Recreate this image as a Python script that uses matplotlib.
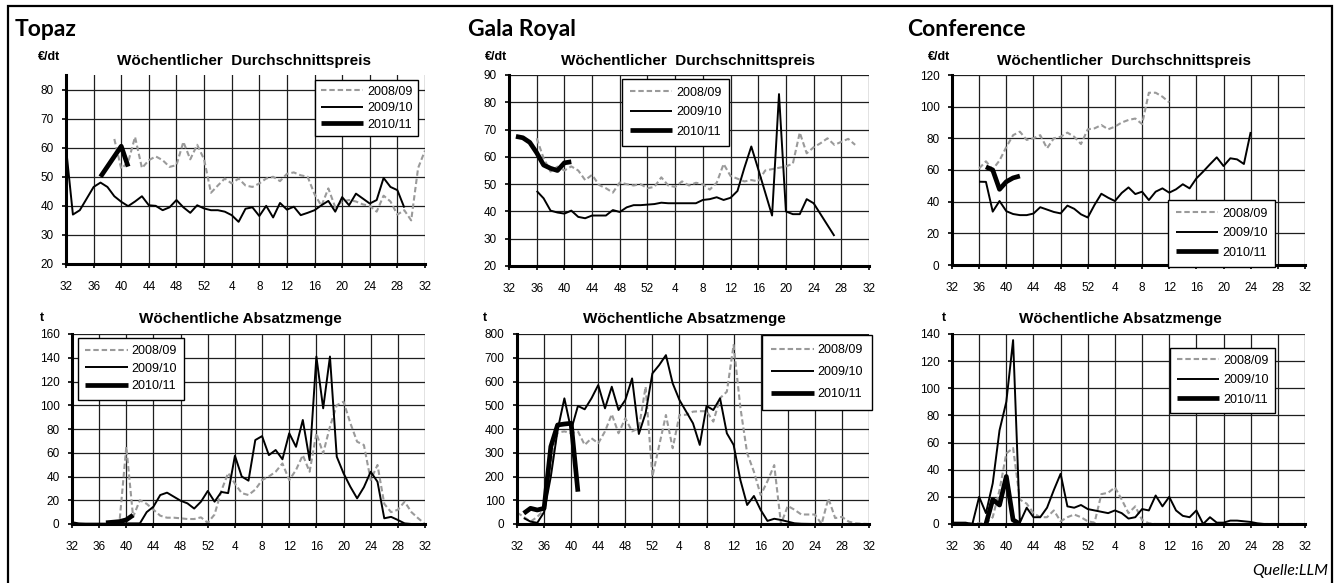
import numpy as np
import matplotlib.pyplot as plt
from matplotlib.patches import Rectangle

# weekly data, x index 0 = week 32 of the first year, 20 = week 52, 52 = week 32 next year
SEASONS = ["2008/09", "2009/10", "2010/11"]
WEEK_LABELS = [32, 36, 40, 44, 48, 52, 4, 8, 12, 16, 20, 24, 28, 32]

# Topaz - price (EUR/dt)
topaz_price_0809_start = 7
topaz_price_0809 = [63, 52.8, 55, 63.7, 53, 55.7, 57, 55.7, 53.4, 54, 62, 56, 61, 56,
                    44.5, 47, 49.4, 47.7, 49.4, 47, 46.5, 47.7, 49.4, 50, 48.5, 51, 51.5,
                    50.5, 50, 44, 40, 46, 39.5, 41.5, 42, 41.5, 40.5, 40, 38, 43.5, 41.5,
                    37, 38.5, 35, 53, 59]
topaz_price_0910_start = 0
topaz_price_0910 = [60, 37, 38.5, 42.5, 46.5, 48, 46.5, 43.3, 41.4, 39.9, 41.5, 43.3, 40.2,
                    40, 38.5, 39.5, 42, 39.5, 37.6, 40.2, 39.1, 38.5, 38.5, 38, 36.8, 34.5,
                    39, 39.5, 36.5, 40, 36, 41, 38.7, 39.7, 36.8, 37.6, 38.5, 40.2, 41.7,
                    38, 43, 40.2, 44.2, 42.5, 40.8, 42, 49.6, 46.5, 45.4, 39.4]
topaz_price_1011_start = 5
topaz_price_1011 = [50, 53.5, 57, 60.5, 53.5]

# Gala Royal - price (EUR/dt)
gala_price_0809_start = 4
gala_price_0809 = [66.8, 59.5, 54.6, 56.4, 55, 56.5, 55, 51.5, 53.4, 49.7, 48.5, 46.9, 50.6,
                   50, 49.5, 50, 48.5, 49, 52.5, 49.5, 49, 51, 49.5, 50.5, 50, 48, 50.5,
                   57.4, 53, 52, 51, 51.5, 51, 55, 55.5, 56, 56.5, 57.5, 68.9, 61.3, 63.5,
                   65, 66.8, 64.4, 65.5, 66.6, 64.4]
gala_price_0910_start = 4
gala_price_0910 = [47.5, 44.8, 40.3, 39.6, 39.2, 40.3, 38, 37.5, 38.5, 38.5, 38.5, 40.5,
                   39.8, 41.5, 42.3, 42.3, 42.5, 42.7, 43.2, 43, 43, 43, 43, 43, 44.2, 44.5,
                   45.2, 44.2, 45, 47.5, 56, 63.8, 55.5, 47, 38.5, 83, 40, 39, 39, 44.5,
                   43, 39, 35, 31]
gala_price_1011_start = 1
gala_price_1011 = [67.5, 67, 65.3, 61.5, 57, 55.8, 55, 57.8, 58.2]

# Conference - price (EUR/dt)
conf_price_0809_start = 4
conf_price_0809 = [61, 65.5, 60.4, 66, 74.5, 82, 84.2, 79, 80, 82, 73.7, 80, 81, 83.6, 81,
                   76.4, 85.7, 86.3, 88.4, 85.7, 87.4, 90, 91.6, 92.5, 89, 108.8, 108.8,
                   106.3, 102.7]
conf_price_0910_start = 4
conf_price_0910 = [52.6, 52.5, 33.7, 40.4, 34, 32.2, 31.5, 31.5, 32.5, 36.5, 35, 33.5,
                   32.6, 37.5, 35.5, 32, 30, 38, 45, 42.5, 40.4, 45.5, 49, 44.8, 46.3, 41,
                   46.3, 48.4, 45.7, 47.8, 51, 48.4, 54.7, 59, 63.6, 68, 62.5, 67.4, 66.7,
                   63.8, 84]
conf_price_1011_start = 5
conf_price_1011 = [62, 60, 47.8, 52.6, 55, 56.2]

# Topaz - volume (t)
topaz_vol_0809_start = 5
topaz_vol_0809 = [0, 0.5, 2, 65, 6, 20, 17, 12, 7, 5.3, 5.3, 4.8, 4.2, 4.2, 5.6, 1, 8, 28,
                  43, 34, 26, 24.4, 29, 37, 40, 44, 51, 37, 45.5, 58, 44, 76.4, 59.5, 82,
                  100, 103, 85, 69.3, 66.5, 37, 49.7, 17, 10, 12, 18.8, 10, 4.8, 0]
topaz_vol_0910_start = 0
topaz_vol_0910 = [1.5, 0.5, 0.3, 0.3, 0.3, 0.3, 0.5, 0.5, 0.5, 0.5, 0.5, 10, 14.6, 24.4,
                  26.4, 23, 19.6, 17.4, 13, 18.8, 27.8, 18.8, 27, 26, 57.5, 40, 36.5, 70.7,
                  74, 58, 62.3, 54.5, 76.4, 65, 87.6, 53.8, 141, 97.4, 141, 56.7, 42.7,
                  31.4, 21.6, 31, 44, 35.6, 4.8, 6, 3.4, 0.5, 0, 0, 0]
topaz_vol_1011_start = 5
topaz_vol_1011 = [1, 1.5, 2, 3.5, 7.5]

# Gala Royal - volume (t)
gala_vol_0809_start = 0
gala_vol_0809 = [48, 30, 10, 30, 60, 250, 385, 390, 382, 390, 333, 361, 340, 390, 462, 382,
                 445, 390, 403, 578, 200, 330, 459, 319, 459, 460, 473, 475, 475, 431, 530,
                 557, 754, 490, 298, 220, 122, 180, 248, 0, 76, 60, 40, 40, 40, 0, 108, 25,
                 30, 10, 3, 1, 0]
gala_vol_0910_start = 1
gala_vol_0910 = [25, 10, 5, 50, 200, 396, 529, 396, 497, 483, 529, 585, 487, 578, 480, 522,
                 613, 379, 467, 634, 669, 711, 592, 522, 473, 424, 333, 497, 480, 529, 382,
                 333, 185, 80, 118, 59, 13, 22, 17, 10, 3, 1, 0.5, 0, 0, 0, 0, 0, 0, 0, 0, 0]
gala_vol_1011_start = 1
gala_vol_1011 = [45, 66, 59, 66, 326, 417, 421, 424, 136]

# Conference - volume (t)
conf_vol_0809_start = 0
conf_vol_0809 = [0.5, 0.5, 0.5, 0.5, 0.5, 0.5, 5, 25, 52, 56, 18, 15, 8, 5, 5, 10, 2, 5, 7,
                 5, 2, 1, 22, 23, 27, 18, 8, 13, 3, 0.5, 0, 0, 0, 0, 0, 0, 0, 0, 0, 0, 0,
                 0, 0, 0, 0, 0, 0, 0, 0, 0, 0, 0, 0]
conf_vol_0910_start = 0
conf_vol_0910 = [1, 1, 1, 0, 20, 8, 30, 69, 90, 135.5, 1, 12, 5, 5, 12, 25, 37, 13, 12, 14,
                 11, 10, 9, 8, 10, 8, 4, 5, 11, 10, 21, 13, 20, 10, 6, 5, 10, 0, 5, 1, 1,
                 2.5, 2.5, 2, 1.5, 0.5, 0, 0, 0, 0, 0, 0, 0]
conf_vol_1011_start = 5
conf_vol_1011 = [0, 18, 14, 35, 3, 0]

W, H = 1340, 583
fig = plt.figure(figsize=(W / 100, H / 100), dpi=100)
plt.rcParams["font.family"] = ["Liberation Sans", "DejaVu Sans"]

STYLES = [
    dict(color="#9a9a9a", lw=1.5, dashes=(2.6, 1.4)),
    dict(color="black", lw=1.4),
    dict(color="black", lw=3.4),
]


def px_axes(left, top, right, bottom):
    return fig.add_axes([left / W, 1 - bottom / H, (right - left) / W, (bottom - top) / H])


def panel(box, series, ylim, ystep, title, title_x, title_y, unit, unit_xy,
          leg_xy, leg_spacing, leg_pad):
    ax = px_axes(*box)
    for (start, vals), label, st in zip(series, SEASONS, STYLES):
        x = start + np.arange(len(vals))
        ax.plot(x, vals, label=label, solid_joinstyle="round", dash_joinstyle="round",
                solid_capstyle="butt", **st)
    ax.set_xlim(0, 52)
    ax.set_ylim(*ylim)
    ax.set_xticks(range(0, 53, 4))
    ax.set_xticklabels(WEEK_LABELS)
    ax.set_yticks(np.arange(ylim[0], ylim[1] + 0.1, ystep))
    ax.grid(True, color="#1e1e1e", lw=0.9)
    ax.set_axisbelow(True)
    for s in ("top", "right"):
        ax.spines[s].set_visible(False)
    for s in ("left", "bottom"):
        ax.spines[s].set_linewidth(2.2)
    ax.tick_params(length=3, width=1.2, labelsize=8.5, colors="black")
    ax.tick_params(axis="x", pad=9)
    ax.tick_params(axis="y", pad=6)
    fig.text(title_x / W, 1 - title_y / H, title, ha="center", va="center",
             fontsize=11, fontweight="bold")
    fig.text(unit_xy[0] / W, 1 - unit_xy[1] / H, unit, ha="left", va="center",
             fontsize=9, fontweight="bold")
    leg = ax.legend(loc="upper left", bbox_to_anchor=(leg_xy[0] / W, 1 - leg_xy[1] / H),
                    bbox_transform=fig.transFigure, borderaxespad=0, fontsize=9,
                    frameon=True, fancybox=False, framealpha=1, edgecolor="black",
                    handlelength=3.4, handletextpad=0.3, labelspacing=leg_spacing,
                    borderpad=leg_pad)
    leg.get_frame().set_linewidth(1.0)
    return ax


# price row
panel((66, 75, 425, 264),
      [(topaz_price_0809_start, topaz_price_0809), (topaz_price_0910_start, topaz_price_0910),
       (topaz_price_1011_start, topaz_price_1011)],
      (20, 85), 10, "Wöchentlicher  Durchschnittspreis", 244, 61, "€/dt", (38, 57),
      (315, 80), 0.36, 0.45)
panel((509, 75, 869, 266),
      [(gala_price_0809_start, gala_price_0809), (gala_price_0910_start, gala_price_0910),
       (gala_price_1011_start, gala_price_1011)],
      (20, 90), 10, "Wöchentlicher  Durchschnittspreis", 688, 61, "€/dt", (485, 57),
      (622, 79), 0.6, 0.62)
panel((952, 75, 1305, 265),
      [(conf_price_0809_start, conf_price_0809), (conf_price_0910_start, conf_price_0910),
       (conf_price_1011_start, conf_price_1011)],
      (0, 120), 20, "Wöchentlicher  Durchschnittspreis", 1124, 61, "€/dt", (928, 57),
      (1168, 200), 0.6, 0.62)

# volume row
panel((72, 334, 425, 524),
      [(topaz_vol_0809_start, topaz_vol_0809), (topaz_vol_0910_start, topaz_vol_0910),
       (topaz_vol_1011_start, topaz_vol_1011)],
      (0, 160), 20, "Wöchentliche Absatzmenge", 240, 319, "t", (40, 318),
      (78, 338), 0.44, 0.58)
panel((517, 334, 869, 524),
      [(gala_vol_0809_start, gala_vol_0809), (gala_vol_0910_start, gala_vol_0910),
       (gala_vol_1011_start, gala_vol_1011)],
      (0, 800), 100, "Wöchentliche Absatzmenge", 684, 319, "t", (483, 318),
      (762, 335), 0.8, 0.74)
panel((952, 334, 1305, 524),
      [(conf_vol_0809_start, conf_vol_0809), (conf_vol_0910_start, conf_vol_0910),
       (conf_vol_1011_start, conf_vol_1011)],
      (0, 140), 20, "Wöchentliche Absatzmenge", 1120, 319, "t", (942, 318),
      (1170, 348), 0.6, 0.54)

# variety headings
for name, x in [("Topaz", 15), ("Gala Royal", 468), ("Conference", 907)]:
    fig.text(x / W, 1 - 29 / H, name, ha="left", va="center", fontsize=16.5,
             fontweight="bold", family=["Lato", "DejaVu Sans"])

fig.text(1328 / W, 1 - 571 / H, "Quelle:LLM", ha="right", va="center", fontsize=11.5,
         style="italic", family=["Lato", "DejaVu Sans"])

# outer frame
fig.patches.append(Rectangle((8 / W, -0.05), 1324 / W, 1 - 6 / H + 0.05,
                             transform=fig.transFigure, fill=False, lw=1.6,
                             edgecolor="black"))

plt.savefig("out.png", dpi=100)
